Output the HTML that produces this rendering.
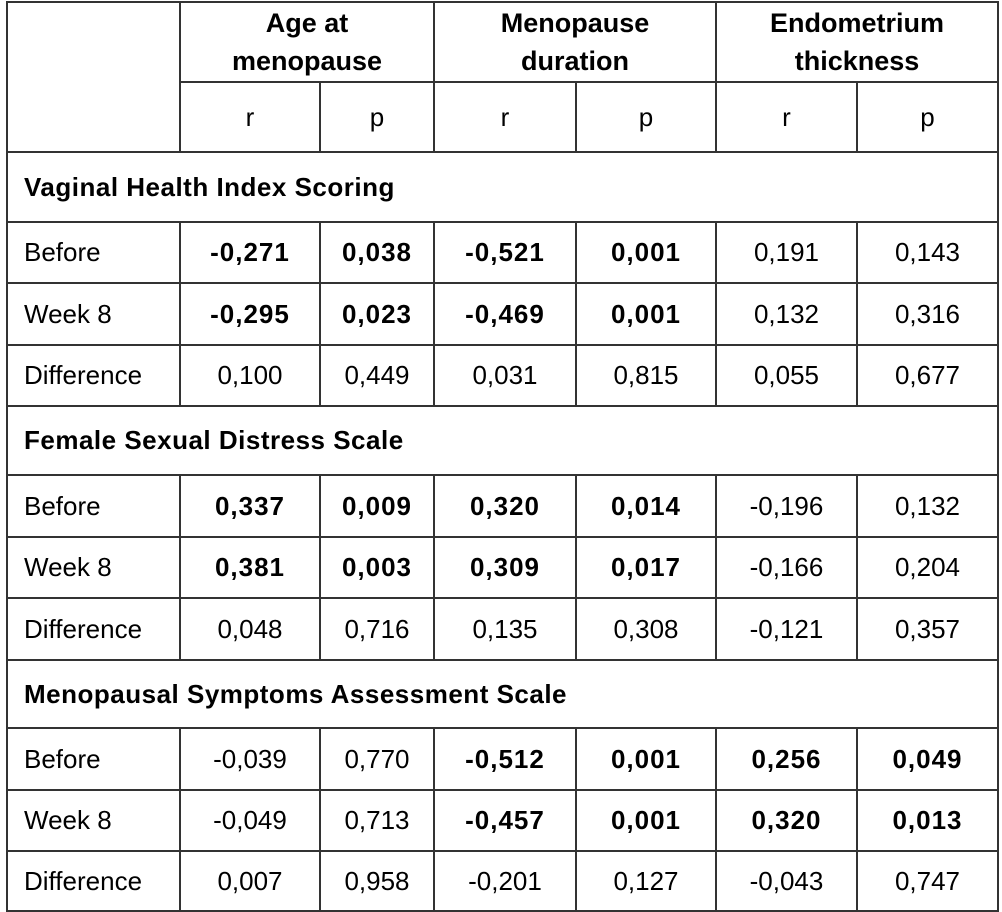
<!DOCTYPE html>
<html><head><meta charset="utf-8"><style>
html,body{margin:0;padding:0;background:#fff;width:1002px;height:912px;overflow:hidden}
#t{position:absolute;left:6px;top:1px;border-collapse:collapse;table-layout:fixed;font-family:"Liberation Sans",sans-serif;font-size:26px;color:#000}
#t td{border:2px solid #333;padding:0;text-align:center;vertical-align:middle;overflow:hidden;white-space:nowrap}
#t td.l{text-align:left;padding-left:16px}
#t td.sec{text-align:left;padding-left:16px;font-weight:bold;letter-spacing:0.5px}
#t .b{font-weight:bold;letter-spacing:1px}
#t td.h{font-weight:bold;line-height:38px;white-space:normal;font-size:27px}
</style></head><body>
<table id="t">
<colgroup><col style="width:173px"><col style="width:140px"><col style="width:114px"><col style="width:142px"><col style="width:140px"><col style="width:141px"><col style="width:141px"></colgroup>
<tr style="height:80px"><td rowspan="2"></td><td colspan="2" class="h">Age at<br>menopause</td><td colspan="2" class="h">Menopause<br>duration</td><td colspan="2" class="h">Endometrium<br>thickness</td></tr>
<tr style="height:70px"><td>r</td><td>p</td><td>r</td><td>p</td><td>r</td><td>p</td></tr>
<tr style="height:70px"><td colspan="7" class="sec">Vaginal Health Index Scoring</td></tr>
<tr style="height:61px"><td class="l">Before</td><td class="b">-0,271</td><td class="b">0,038</td><td class="b">-0,521</td><td class="b">0,001</td><td>0,191</td><td>0,143</td></tr>
<tr style="height:62px"><td class="l">Week 8</td><td class="b">-0,295</td><td class="b">0,023</td><td class="b">-0,469</td><td class="b">0,001</td><td>0,132</td><td>0,316</td></tr>
<tr style="height:61px"><td class="l">Difference</td><td>0,100</td><td>0,449</td><td>0,031</td><td>0,815</td><td>0,055</td><td>0,677</td></tr>
<tr style="height:69px"><td colspan="7" class="sec">Female Sexual Distress Scale</td></tr>
<tr style="height:62px"><td class="l">Before</td><td class="b">0,337</td><td class="b">0,009</td><td class="b">0,320</td><td class="b">0,014</td><td>-0,196</td><td>0,132</td></tr>
<tr style="height:61px"><td class="l">Week 8</td><td class="b">0,381</td><td class="b">0,003</td><td class="b">0,309</td><td class="b">0,017</td><td>-0,166</td><td>0,204</td></tr>
<tr style="height:62px"><td class="l">Difference</td><td>0,048</td><td>0,716</td><td>0,135</td><td>0,308</td><td>-0,121</td><td>0,357</td></tr>
<tr style="height:68px"><td colspan="7" class="sec">Menopausal Symptoms Assessment Scale</td></tr>
<tr style="height:62px"><td class="l">Before</td><td>-0,039</td><td>0,770</td><td class="b">-0,512</td><td class="b">0,001</td><td class="b">0,256</td><td class="b">0,049</td></tr>
<tr style="height:61px"><td class="l">Week 8</td><td>-0,049</td><td>0,713</td><td class="b">-0,457</td><td class="b">0,001</td><td class="b">0,320</td><td class="b">0,013</td></tr>
<tr style="height:60px"><td class="l">Difference</td><td>0,007</td><td>0,958</td><td>-0,201</td><td>0,127</td><td>-0,043</td><td>0,747</td></tr>
</table>
</body></html>
